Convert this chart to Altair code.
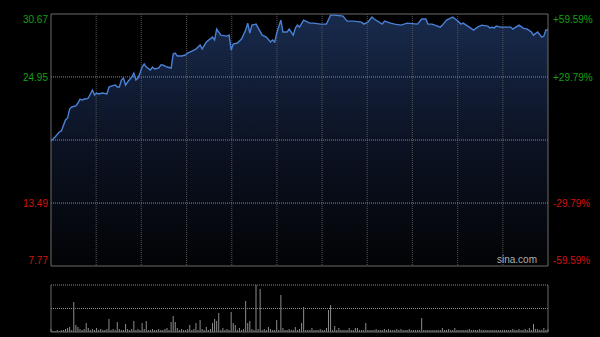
import altair as alt
import pandas as pd

# ---- data ----
minutes = [0, 2, 4, 5, 7, 8, 9, 10, 12, 13,
           14, 15, 16, 17, 18, 20, 21, 22, 23, 25,
           27, 28, 29, 31, 32, 33, 34, 35, 36, 37,
           39, 40, 41, 42, 43, 44, 45, 46, 48, 49,
           50, 52, 53, 54, 56, 58, 59, 60, 61, 63,
           65, 66, 68, 69, 70, 71, 72, 73, 75, 78,
           79, 80, 82, 85, 86, 87, 88, 90, 92, 94,
           95, 96, 97, 99, 102, 104, 106, 107, 108, 109,
           111, 112, 114, 115, 117, 118, 119, 120, 122, 124,
           125, 127, 130, 133, 135, 137, 141, 143, 146, 150,
           151, 153, 155, 156, 160, 161, 164, 166, 169, 172,
           177, 179, 181, 182, 184, 188, 189, 191, 194, 196,
           198, 199, 202, 204, 206, 208, 211, 212, 213, 214,
           215, 217, 222, 223, 226, 228, 230, 232, 233, 235,
           237, 238, 239, 240]

prices = [19.13, 19.49, 19.95, 20.04, 21.04, 21.22, 22.03, 22.22, 22.31, 22.58,
          22.94, 22.85, 22.94, 22.94, 23.03, 23.76, 23.31, 23.49, 23.40, 23.49,
          23.40, 24.03, 24.12, 24.21, 24.03, 24.03, 24.67, 24.85, 24.21, 24.49,
          24.94, 25.30, 24.67, 24.85, 25.30, 25.85, 26.12, 25.85, 25.58, 25.85,
          25.67, 25.76, 26.03, 26.03, 25.85, 25.76, 27.03, 27.12, 26.85, 26.85,
          26.94, 27.12, 27.30, 27.39, 27.48, 27.66, 27.85, 27.48, 28.12, 28.57,
          28.30, 29.30, 28.75, 28.66, 28.75, 27.39, 27.94, 28.03, 28.39, 29.21,
          29.84, 28.93, 29.66, 29.75, 28.75, 28.57, 28.12, 28.30, 28.12, 28.93,
          30.11, 29.03, 29.03, 29.30, 28.75, 29.39, 29.66, 29.48, 30.11, 29.93,
          29.84, 29.84, 29.75, 29.75, 30.57, 30.57, 30.48, 30.02, 30.02, 29.93,
          29.75, 29.93, 30.39, 30.21, 29.75, 30.02, 29.84, 29.75, 29.66, 29.84,
          29.75, 30.21, 30.21, 29.75, 29.75, 29.48, 29.66, 30.11, 30.39, 30.11,
          29.75, 29.84, 29.48, 29.21, 29.48, 29.66, 29.57, 29.39, 29.48, 29.39,
          29.57, 29.48, 29.48, 29.30, 29.66, 29.39, 29.30, 29.03, 28.75, 29.03,
          28.57, 28.66, 29.21, 29.21]

volumes = [3, 1, 1, 2, 1, 2, 2, 3, 4, 5, 2, 30, 7, 5, 3, 2, 3, 9, 4, 2,
           3, 2, 4, 2, 3, 2, 2, 3, 13, 2, 3, 2, 10, 3, 2, 2, 8, 3, 2, 3,
           11, 2, 3, 2, 9, 3, 11, 2, 2, 3, 2, 2, 3, 2, 2, 3, 4, 2, 10, 16,
           10, 4, 2, 3, 2, 2, 3, 7, 2, 3, 9, 2, 12, 3, 2, 5, 2, 3, 9, 13,
           11, 19, 2, 4, 2, 3, 2, 20, 9, 7, 2, 4, 2, 3, 31, 9, 11, 3, 2, 47,
           3, 43, 2, 3, 2, 5, 3, 2, 2, 12, 2, 37, 4, 2, 2, 3, 2, 2, 5, 2,
           3, 9, 25, 2, 2, 2, 4, 2, 2, 2, 3, 2, 2, 4, 22, 27, 2, 6, 2, 4,
           2, 2, 2, 2, 4, 2, 2, 4, 4, 2, 2, 2, 9, 2, 2, 2, 2, 3, 2, 2,
           2, 3, 2, 3, 2, 2, 2, 3, 2, 3, 2, 2, 2, 3, 2, 2, 2, 2, 2, 14,
           2, 2, 2, 2, 2, 2, 2, 2, 2, 4, 2, 2, 3, 2, 2, 4, 2, 2, 2, 2,
           2, 2, 3, 2, 2, 2, 2, 3, 2, 2, 2, 2, 2, 2, 2, 2, 2, 2, 2, 2,
           2, 2, 2, 3, 2, 2, 3, 2, 2, 3, 2, 4, 2, 8, 3, 3, 2, 2, 4, 2, 3]

axis_prices = [30.67, 24.95, 13.49, 7.77]
axis_price_labels = ["30.67", "24.95", "13.49", "7.77"]
axis_pct_labels = ["+59.59%", "+29.79%", "-29.79%", "-59.59%"]
prev_close = 19.22
hgrid_prices = [24.95, 19.22, 13.49]
grid_minutes = [21.8, 43.6, 65.5, 87.3, 109.1, 130.9, 152.7, 174.5, 196.4, 218.2]
price_lo, price_hi = 7.77, 30.67
vol_max = 47
last_minute = 240

# ---- styles ----
GREEN = "#12a012"
RED = "#d41010"
FONT = "Liberation Sans"
BORDER = "#6a6a6a"

xs = alt.Scale(domain=[0, last_minute], nice=False, zero=False)
def ps():
    return alt.Scale(domain=[price_lo, price_hi], range=[252, 0], nice=False, zero=False, clamp=True)
def vs():
    return alt.Scale(domain=[0, vol_max], range=[318, 271], nice=False, zero=False)

price_df = pd.DataFrame({"m": minutes, "p": prices})
vol_df = pd.DataFrame({"m": list(range(len(volumes))), "v": volumes})

grad = alt.Gradient(gradient="linear",
                    stops=[alt.GradientStop(color="#182a4c", offset=0),
                           alt.GradientStop(color="#0c1324", offset=0.5),
                           alt.GradientStop(color="#020305", offset=1)],
                    x1=1, x2=1, y1=0, y2=1)

area = alt.Chart(price_df).mark_area(color=grad).encode(
    x=alt.X("m:Q", scale=xs, axis=None),
    y=alt.Y("p:Q", scale=ps(), axis=None),
    y2=alt.Y2(datum=price_lo))

vgrid = alt.Chart(pd.DataFrame({"g": grid_minutes})).mark_rule(
    color="#555555", strokeWidth=1, strokeDash=[1, 1]).encode(
    x=alt.X("g:Q", scale=xs, axis=None),
    y=alt.Y(datum=price_hi, scale=ps(), axis=None),
    y2=alt.Y2(datum=price_lo))

hgrid = alt.Chart(pd.DataFrame({"h": hgrid_prices})).mark_rule(
    color="#8a8a8a", strokeWidth=1, strokeDash=[1, 1]).encode(
    y=alt.Y("h:Q", scale=ps(), axis=None),
    x=alt.X(datum=0, scale=xs, axis=None),
    x2=alt.X2(datum=last_minute))

line = alt.Chart(price_df).mark_line(color="#4a80d6", strokeWidth=1.4).encode(
    x=alt.X("m:Q", scale=xs, axis=None),
    y=alt.Y("p:Q", scale=ps(), axis=None))

frame = alt.Chart(pd.DataFrame({"a": [0]})).mark_rect(
    filled=False, stroke=BORDER, strokeWidth=1).encode(
    x=alt.X(datum=0, scale=xs, axis=None),
    x2=alt.X2(datum=last_minute),
    y=alt.Y(datum=price_hi, scale=ps(), axis=None),
    y2=alt.Y2(datum=price_lo))

def label_layer(vals, texts, xpx, align, dy):
    df = pd.DataFrame({"v": vals, "t": texts})
    return alt.Chart(df).mark_text(align=align, baseline="alphabetic", dy=dy,
                                   font=FONT, fontSize=10).encode(
        x=alt.value(xpx),
        y=alt.Y("v:Q", scale=ps(), axis=None),
        text="t:N",
        color=alt.condition(f"datum.v > {prev_close}", alt.value(GREEN), alt.value(RED)))

labels = []
for side_texts, xpx, align in [(axis_price_labels, -3, "right"), (axis_pct_labels, 502, "left")]:
    labels.append(label_layer(axis_prices[0:1], side_texts[0:1], xpx, align, 9))
    labels.append(label_layer(axis_prices[1:3], side_texts[1:3], xpx, align, 4))
    labels.append(label_layer(axis_prices[3:4], side_texts[3:4], xpx, align, -2))

watermark = alt.Chart(pd.DataFrame({"t": ["sina.com"]})).mark_text(
    align="right", baseline="alphabetic", font=FONT, fontSize=10, color="#b0b0b0").encode(
    x=alt.value(486), y=alt.value(249), text="t:N")

# volume panel
vol_bars = alt.Chart(vol_df).mark_rule(color="#8c8c8c", strokeWidth=1).encode(
    x=alt.X("m:Q", scale=xs, axis=None),
    y=alt.Y("v:Q", scale=vs(), axis=None),
    y2=alt.Y2(datum=0))

vol_dotted = alt.Chart(pd.DataFrame({"h": [vol_max, vol_max / 2]})).mark_rule(
    color="#8a8a8a", strokeWidth=1, strokeDash=[1, 1]).encode(
    y=alt.Y("h:Q", scale=vs(), axis=None),
    x=alt.X(datum=0, scale=xs, axis=None),
    x2=alt.X2(datum=last_minute))

vol_sides = alt.Chart(pd.DataFrame({"s": [0, last_minute]})).mark_rule(
    color=BORDER, strokeWidth=1).encode(
    x=alt.X("s:Q", scale=xs, axis=None),
    y=alt.Y(datum=0, scale=vs(), axis=None),
    y2=alt.Y2(datum=vol_max))

vol_bottom = alt.Chart(pd.DataFrame({"a": [0]})).mark_rule(
    color=BORDER, strokeWidth=1).encode(
    y=alt.Y(datum=0, scale=vs(), axis=None),
    x=alt.X(datum=0, scale=xs, axis=None),
    x2=alt.X2(datum=last_minute))

chart = alt.layer(
    area, vgrid, hgrid, line, frame, watermark,
    vol_bars, vol_dotted, vol_sides, vol_bottom,
    *labels
).resolve_scale(y="independent").properties(
    width=497, height=318,
    autosize=alt.AutoSizeParams(type="none"),
    padding={"left": 51, "top": 14, "right": 52, "bottom": 5},
    background="#000000"
).configure_view(strokeWidth=0)

chart.save("out.html", embed_options={"renderer": "svg", "actions": False})
